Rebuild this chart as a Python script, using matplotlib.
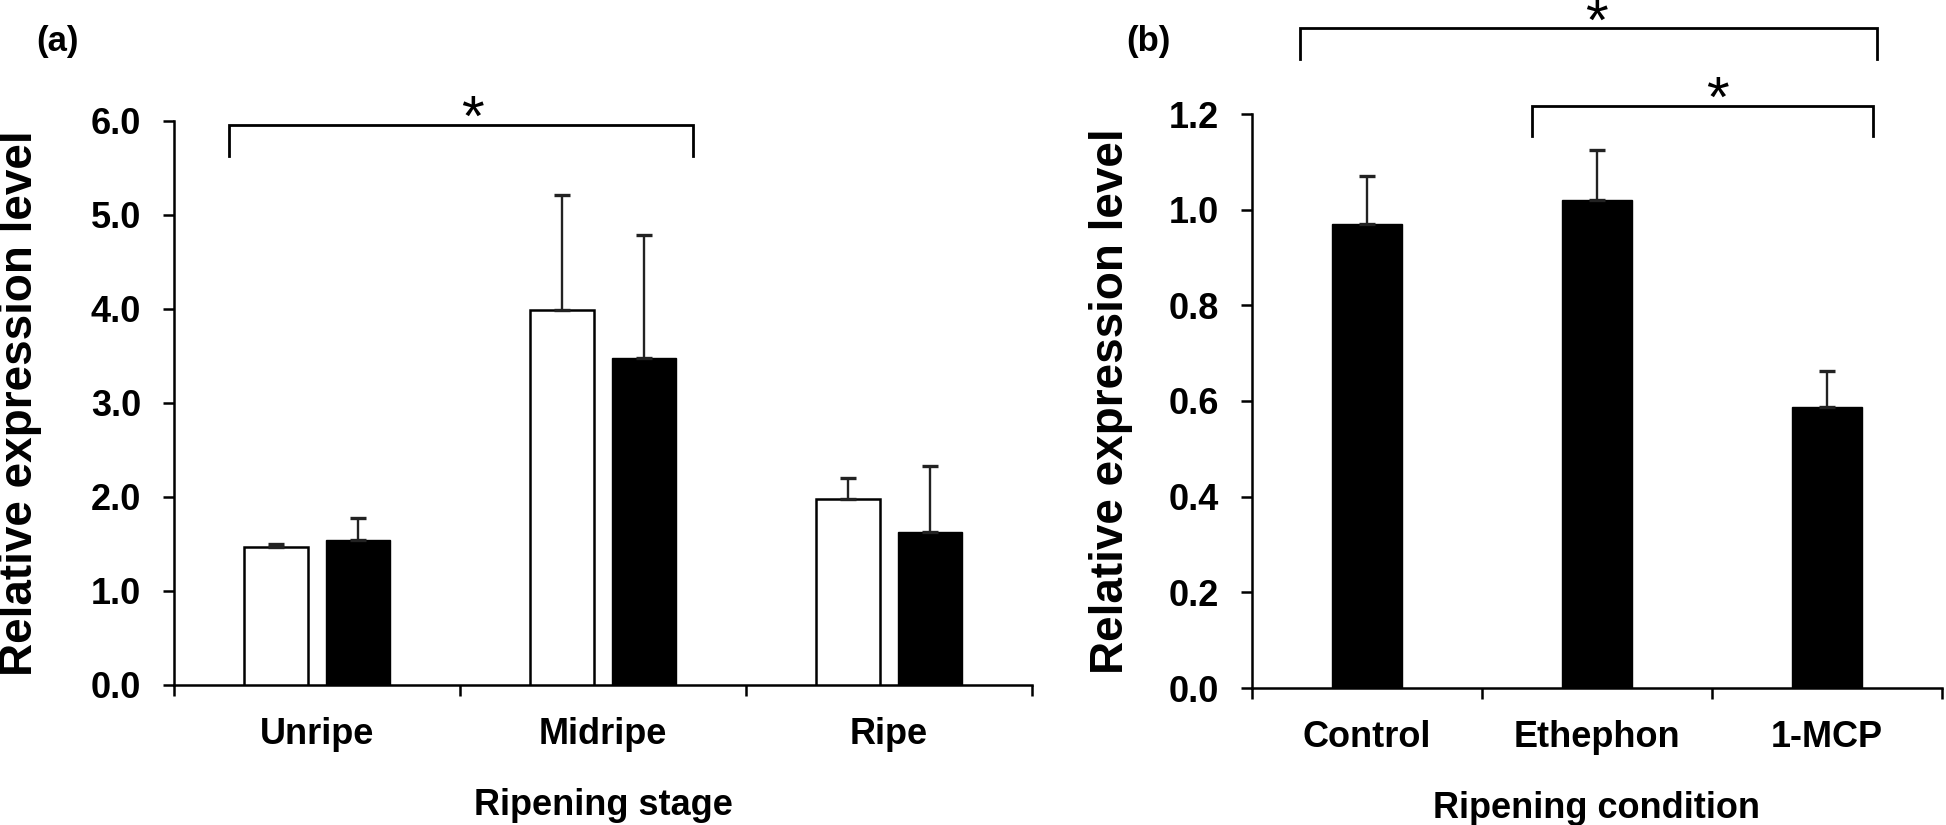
import matplotlib
matplotlib.use("Agg")
import matplotlib.pyplot as plt
from matplotlib.ticker import FixedLocator, FormatStrFormatter

plt.rcParams['font.family'] = ['Liberation Sans', 'DejaVu Sans']
plt.rcParams['font.weight'] = 'bold'

# panel (a): ripening stage, two series (white / black bars)
stages = ['Unripe', 'Midripe', 'Ripe']
white_vals = [1.47, 3.99, 1.98]
white_err = [0.03, 1.22, 0.22]
black_vals = [1.54, 3.48, 1.63]
black_err = [0.24, 1.30, 0.70]

# panel (b): ripening condition
conditions = ['Control', 'Ethephon', '1-MCP']
cond_vals = [0.97, 1.02, 0.587]
cond_err = [0.10, 0.105, 0.075]

a_ticks = [0.0, 1.0, 2.0, 3.0, 4.0, 5.0, 6.0]
b_ticks = [0.0, 0.2, 0.4, 0.6, 0.8, 1.0, 1.2]

W, H = 1946, 825
fig = plt.figure(figsize=(W / 100, H / 100), dpi=100)

ax1 = fig.add_axes([174 / W, 1 - 685 / H, 858 / W, 564.3 / H])
ax2 = fig.add_axes([1251.6 / W, 1 - 688 / H, 690.1 / W, 574 / H])

err_kw = dict(ecolor='#222222', elinewidth=1.7, capsize=5.5, capthick=2.4)


def style_axis(ax, ticks, cats):
    for s in ['top', 'right']:
        ax.spines[s].set_visible(False)
    for s in ['left', 'bottom']:
        ax.spines[s].set_linewidth(1.8)
    ax.set_xlim(-0.5, len(cats) - 0.5)
    ax.set_ylim(ticks[0], ticks[-1])
    ax.set_yticks(ticks)
    ax.yaxis.set_major_formatter(FormatStrFormatter('%.1f'))
    ax.tick_params(axis='y', direction='out', length=7.7, width=1.8,
                   labelsize=26, pad=16)
    ax.set_xticks(range(len(cats)))
    ax.set_xticklabels(cats, fontsize=26, fontweight='bold')
    ax.tick_params(axis='x', which='major', length=0, pad=23)
    ax.xaxis.set_minor_locator(FixedLocator([i - 0.5 for i in range(len(cats) + 1)]))
    ax.tick_params(axis='x', which='minor', direction='out', length=7.7, width=1.8)
    for lab in ax.get_yticklabels():
        lab.set_fontweight('bold')


def bracket(ax, x0, x1, ytop, ybot, star_x, star_y):
    ax.plot([x0, x0, x1, x1], [ybot, ytop, ytop, ybot], color='black',
            lw=2.0, clip_on=False, solid_joinstyle='miter')
    ax.text(star_x, star_y, '*', ha='center', va='baseline', fontsize=42,
            fontweight='normal', clip_on=False)


# ---- panel (a)
x = range(len(stages))
off = 0.143
bw = 0.222
ax1.bar([i - off for i in x], white_vals, bw, color='white', edgecolor='black',
        linewidth=1.8, yerr=[[0] * 3, white_err], error_kw=err_kw, zorder=3)
ax1.bar([i + off for i in x], black_vals, bw, color='black', edgecolor='black',
        linewidth=1.0, yerr=[[0] * 3, black_err], error_kw=err_kw, zorder=3)
style_axis(ax1, a_ticks, stages)
ax1.set_xlabel('Ripening stage', fontsize=26, fontweight='bold', labelpad=26)
ax1.set_ylabel('Relative expression level', fontsize=33, fontweight='bold', va='center')
ax1.yaxis.set_label_coords(-0.1795, 0.5)
bracket(ax1, -0.308, 1.316, 5.95, 5.62, 0.544, 5.84)

# ---- panel (b)
x = range(len(conditions))
ax2.bar(list(x), cond_vals, 0.305, color='black', edgecolor='black', linewidth=1.0,
        yerr=[[0] * 3, cond_err], error_kw=err_kw, zorder=3)
style_axis(ax2, b_ticks, conditions)
ax2.set_xlabel('Ripening condition', fontsize=26, fontweight='bold', labelpad=26)
ax2.set_ylabel('Relative expression level', fontsize=33, fontweight='bold', va='center')
ax2.yaxis.set_label_coords(-0.2037, 0.5)
bracket(ax2, -0.29, 2.218, 1.380, 1.315, 0.997, 1.356)
bracket(ax2, 0.718, 2.203, 1.216, 1.154, 1.526, 1.195)

fig.text(57.5 / W, 1 - 41 / H, '(a)', fontsize=25, fontweight='bold', ha='center', va='center')
fig.text(1148 / W, 1 - 41 / H, '(b)', fontsize=25, fontweight='bold', ha='center', va='center')

fig.savefig('out.png', dpi=100)
